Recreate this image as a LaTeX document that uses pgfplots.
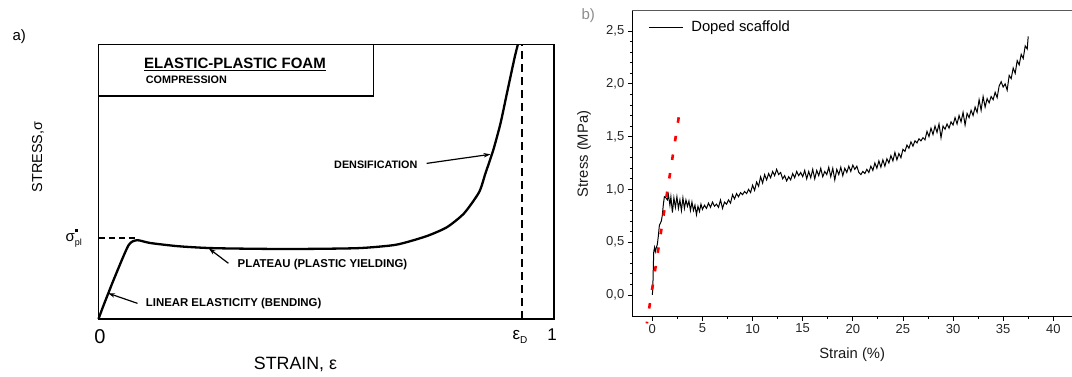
\documentclass[border=0pt]{standalone}
\usepackage{pgfplots}
\pgfplotsset{compat=1.18}
\usepackage{fontspec}
\setmainfont{Liberation Sans}
\usetikzlibrary{arrows.meta}
\newcommand{\fs}[1]{\fontsize{#1bp}{#1bp}\selectfont}
\begin{document}
\begin{tikzpicture}[x=1bp,y=1bp]
\useasboundingbox (0,0) rectangle (1072,-376);
% ---------------- panel a ----------------
\begin{axis}[at={(98.5bp,-319bp)}, anchor=south west, scale only axis,
  width=455.8bp, height=274.5bp, xmin=0, xmax=1, ymin=0, ymax=1,
  xtick=\empty, ytick=\empty, axis line style={line width=1.8bp}, clip=false]
\addplot[black, line width=2.3bp, smooth, tension=0.4] coordinates {
(0,0) (0.01,0.045) (0.035,0.15) (0.066,0.269) (0.085,0.287) (0.113,0.277)
(0.176,0.265) (0.254,0.258) (0.412,0.255) (0.567,0.258) (0.647,0.269)
(0.685,0.284) (0.725,0.305) (0.765,0.335) (0.802,0.385) (0.835,0.462)
(0.849,0.531) (0.866,0.615) (0.882,0.713) (0.896,0.822) (0.913,0.953) (0.920,1.0)};
\draw[line width=1.6bp, dash pattern=on 8bp off 5bp] (axis cs:0.929,0) -- (axis cs:0.929,1);
\draw[line width=1.4bp, dash pattern=on 6bp off 4bp] (axis cs:0,0.295) -- (axis cs:0.085,0.295);
\draw[line width=1.6bp] (axis cs:0,0.812) -- (axis cs:0.603,0.812) -- (axis cs:0.603,1);
\draw[line width=1.2bp, -{Stealth[length=7bp,width=4.5bp]}] (axis cs:0.72,0.567) -- (axis cs:0.860,0.60);
\draw[line width=1.2bp, -{Stealth[length=7bp,width=4.5bp]}] (axis cs:0.285,0.203) -- (axis cs:0.242,0.257);
\draw[line width=1.2bp, -{Stealth[length=7bp,width=4.5bp]}] (axis cs:0.0856,0.057) -- (axis cs:0.021,0.094);
\end{axis}
\node[anchor=west, font=\fs{15}] at (9,-37) {a)};
\node[font=\fs{15}\bfseries] at (235,-64) {\underline{ELASTIC-PLASTIC FOAM}};
\node[anchor=west, inner sep=0pt, font=\fs{10.8}\bfseries] at (145.7,-80) {COMPRESSION};
\node[anchor=west, inner sep=0pt, font=\fs{10.8}\bfseries] at (334,-165) {DENSIFICATION};
\node[anchor=west, inner sep=0pt, font=\fs{11.4}\bfseries] at (237.5,-265) {PLATEAU (PLASTIC YIELDING)};
\node[anchor=west, inner sep=0pt, font=\fs{11.4}\bfseries] at (145.7,-304) {LINEAR ELASTICITY (BENDING)};
\node[rotate=90, font=\fs{14.4}] at (38,-157) {STRESS,σ};
\node[font=\fs{17.8}] at (295.5,-364) {STRAIN, ε};
\node[font=\fs{20}] at (100,-337) {0};
\node[font=\fs{17}] at (520,-337) {ε\raisebox{-4bp}{\fs{10}D}};
\node[font=\fs{17}] at (552,-335) {1};
\node[font=\fs{15}] at (72,-238) {σ\raisebox{-4bp}{\fs{9}pl}\hspace{-7bp}\raisebox{9bp}{\rule{3.5bp}{3.5bp}}};
% ---------------- panel b ----------------
\begin{axis}[at={(632.3bp,-316bp)}, anchor=south west, scale only axis,
  width=439.7bp, height=306bp, xmin=-2, xmax=41.87, ymin=-0.2, ymax=2.7,
  axis x line*=bottom, axis y line*=left, clip=false,
  xtick={0,5,...,40}, ytick={0,0.5,1,1.5,2,2.5},
  minor x tick num=1, minor y tick num=4,
  tick align=outside, major tick length=4.5bp, minor tick length=2.5bp,
  tick style={black, line width=0.8bp}, axis line style={line width=1bp},
  /pgf/number format/assume math mode=true,
  tick label style={font=\fs{13}, text=black!85},
  yticklabel style={/pgf/number format/.cd, fixed, fixed zerofill, precision=1, use comma},
  xlabel={Strain (\%)}, ylabel={Stress (MPa)},
  label style={font=\fs{14.8}, text=black!90},
  xlabel style={at={(axis description cs:0.5,-0.127)}, anchor=center},
  ylabel style={at={(axis description cs:-0.11,0.53)}, anchor=center},
  legend style={draw=none, fill=none, at={(0.036,0.944)}, anchor=west, inner sep=0pt,
    column sep=6bp, font=\fs{14.8}},
  legend image code/.code={\draw[#1] (0bp,0bp) -- (34bp,0bp);},
  legend cell align=left]
\addplot[black, line width=1bp] table {
x y
0 0.00
0.05 0.08
0.10 0.28
0.14 0.41
0.22 0.45
0.30 0.41
0.40 0.45
0.50 0.48
0.60 0.56
0.70 0.66
0.80 0.68
0.90 0.70
1.00 0.76
1.10 0.86
1.20 0.93
1.35 0.92
1.5 0.90
1.6 0.95
1.75 0.85
1.85 0.93
2.0 0.78
2.15 0.92
2.3 0.83
2.45 0.93
2.6 0.82
2.75 0.90
2.9 0.80
3.05 0.92
3.2 0.82
3.35 0.90
3.5 0.84
3.65 0.89
3.8 0.80
3.95 0.88
4.1 0.80
4.25 0.85
4.4 0.76
4.55 0.84
4.7 0.79
4.85 0.86
5.0 0.81
5.2 0.85
5.4 0.82
5.6 0.87
5.8 0.83
6.0 0.88
6.2 0.84
6.4 0.86
6.6 0.83
6.8 0.90
7.0 0.82
7.2 0.88
7.4 0.86
7.6 0.90
7.8 0.87
8.0 0.95
8.2 0.91
8.4 0.96
8.6 0.93
8.8 0.97
9.0 0.95
9.2 0.98
9.4 0.96
9.6 1.00
9.8 0.97
10.0 1.04
10.2 0.99
10.4 1.07
10.6 1.03
10.8 1.12
11.0 1.06
11.2 1.14
11.4 1.09
11.6 1.15
11.8 1.11
12.0 1.17
12.2 1.13
12.4 1.19
12.6 1.14
12.8 1.16
13.0 1.10
13.2 1.13
13.4 1.08
13.6 1.12
13.8 1.09
14.0 1.15
14.2 1.11
14.4 1.17
14.6 1.13
14.8 1.16
15.0 1.12
15.2 1.18
15.4 1.10
15.6 1.17
15.8 1.11
16.0 1.19
16.2 1.10
16.4 1.18
16.6 1.13
16.8 1.20
17.0 1.12
17.2 1.17
17.4 1.14
17.6 1.21
17.8 1.12
18.0 1.20
18.2 1.09
18.4 1.19
18.6 1.14
18.8 1.21
19.0 1.13
19.2 1.20
19.4 1.16
19.6 1.22
19.8 1.17
20.0 1.23
20.2 1.19
20.4 1.22
20.6 1.16
20.8 1.14
21.0 1.17
21.2 1.15
21.4 1.19
21.6 1.16
21.8 1.22
22.0 1.18
22.2 1.25
22.4 1.20
22.6 1.27
22.8 1.21
23.0 1.28
23.2 1.22
23.4 1.29
23.6 1.25
23.8 1.32
24.0 1.27
24.2 1.35
24.4 1.28
24.6 1.34
24.8 1.30
25.0 1.38
25.2 1.36
25.4 1.42
25.6 1.39
25.8 1.45
26.0 1.41
26.2 1.46
26.4 1.44
26.6 1.48
26.8 1.46
27.0 1.49
27.2 1.47
27.4 1.55
27.6 1.50
27.8 1.58
28.0 1.52
28.2 1.60
28.4 1.54
28.6 1.62
28.8 1.49
29.0 1.60
29.2 1.57
29.4 1.62
29.6 1.58
29.8 1.64
30.0 1.61
30.2 1.68
30.4 1.62
30.6 1.70
30.8 1.64
31.0 1.73
31.2 1.61
31.4 1.72
31.6 1.68
31.8 1.75
32.0 1.70
32.2 1.78
32.4 1.73
32.6 1.85
32.8 1.75
33.0 1.88
33.2 1.78
33.4 1.86
33.6 1.82
33.8 1.88
34.0 1.85
34.2 1.92
34.4 1.87
34.6 1.98
34.8 2.02
35.0 1.97
35.2 2.00
35.4 1.94
35.6 2.08
35.8 2.05
36.0 2.15
36.2 2.10
36.4 2.22
36.6 2.18
36.8 2.28
37.0 2.24
37.2 2.36
37.4 2.33
37.5 2.45
};
\addlegendentry{Doped scaffold}
\addplot[red, line width=2.6bp, dash pattern=on 5.5bp off 13.3bp, forget plot] coordinates {(2.63,1.683) (-0.55,-0.27)};
\draw[line width=1bp, black!65] (rel axis cs:0,1) -- (rel axis cs:1,1);
\end{axis}
\node[anchor=west, text=black!45, font=\fs{15}] at (578,-16) {b)};
\end{tikzpicture}
\end{document}
